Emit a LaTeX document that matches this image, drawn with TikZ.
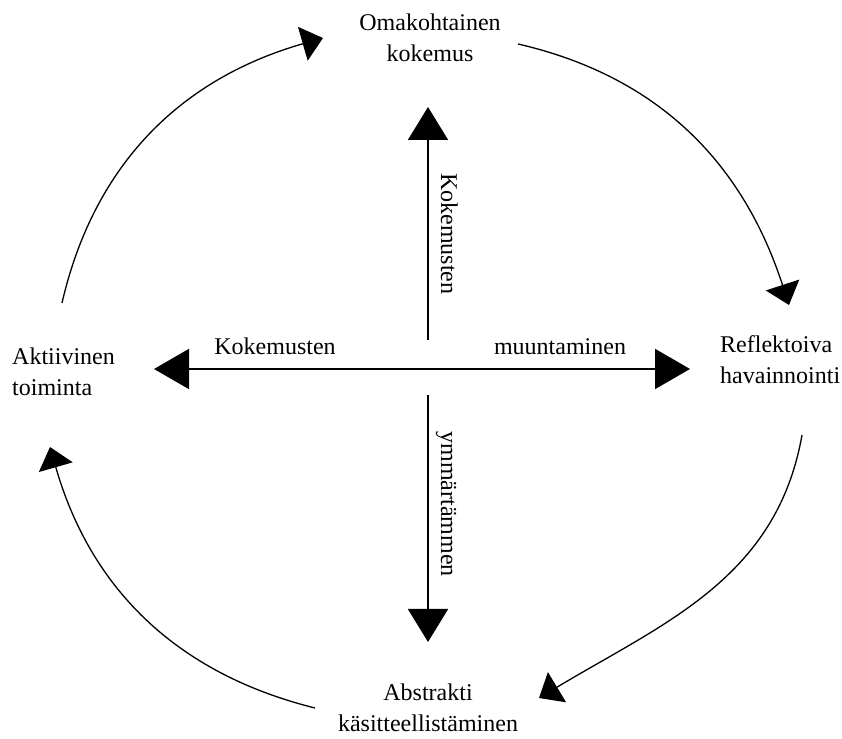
\documentclass[tikz,border=0pt]{standalone}
\usepackage{fontspec}
\setmainfont{Liberation Serif}
\usetikzlibrary{arrows.meta}
\begin{document}
\begin{tikzpicture}[x=1pt,y=1pt,
  lbl/.style={inner sep=0pt, font=\fontsize{24}{31}\selectfont, align=center},
  lbll/.style={lbl, align=left, anchor=west},
  cyc/.style={line width=1.3pt, -{Triangle[length=21pt,width=35pt]}},
  axis/.style={line width=1.8pt},
  bigtip/.style={-{Triangle[length=33pt,width=40pt]}}]
\useasboundingbox (0,0) rectangle (842,738);
% labels
\node[lbl] (top) at (430,700) {Omakohtainen\\kokemus};
\node[lbll] (left) at (12,366) {Aktiivinen\\toiminta};
\node[lbll] (right) at (720,378) {Reflektoiva\\havainnointi};
\node[lbl] (bottom) at (428,30) {Abstrakti\\käsitteellistäminen};
% cycle arcs
\coordinate (a1s) at (62,435);  \coordinate (a1e) at (323,700);
\coordinate (a2s) at (518,694); \coordinate (a2e) at (789,433);
\coordinate (a3s) at (802,303); \coordinate (a3e) at (539,40);
\coordinate (a4s) at (315,30);  \coordinate (a4e) at (50,291);
\draw[cyc] (a1s) to[out=77,in=196] (a1e);
\draw[cyc] (a2s) to[out=-13,in=108] (a2e);
\draw[cyc] (a3s) to[out=-100,in=31] (a3e);
\draw[cyc] (a4s) to[out=166,in=-74] (a4e);
% central cross
\coordinate (vt0) at (428,398); \coordinate (vt) at (428,631);
\coordinate (vb0) at (428,343); \coordinate (vb) at (428,96);
\coordinate (hl) at (154,369);  \coordinate (hr) at (690,369);
\draw[axis,bigtip] (vt0) -- (vt);
\draw[axis,bigtip] (vb0) -- (vb);
\draw[axis,{Triangle[length=35pt,width=40pt]}-{Triangle[length=35pt,width=40pt]}] (hl) -- (hr);
% axis texts
\node[lbl, anchor=base] (k1) at (275,383) {Kokemusten};
\node[lbl, anchor=base] (m1) at (560,383) {muuntaminen};
\node[lbl, rotate=-90, anchor=base] (k2) at (441,504) {Kokemusten};
\node[lbl, rotate=-90, anchor=base] (y2) at (441,234) {ymmärtämmen};
\end{tikzpicture}
\end{document}
